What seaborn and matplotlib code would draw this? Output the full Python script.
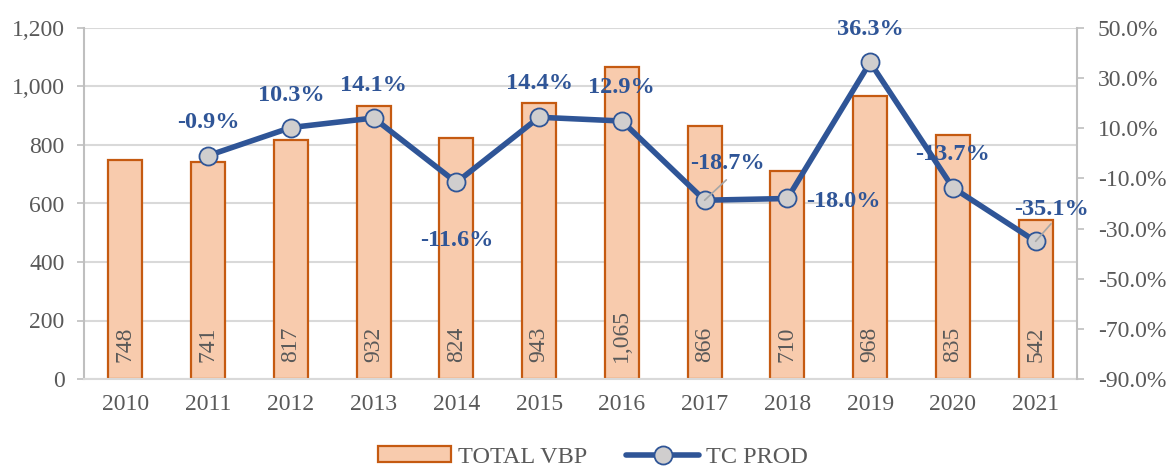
import numpy as np
import pandas as pd
import matplotlib
matplotlib.use('Agg')
import matplotlib.pyplot as plt
import seaborn as sns
from matplotlib.patches import Patch
from matplotlib.lines import Line2D

sns.set_style('white')
plt.rcParams['font.family'] = ['Liberation Serif', 'DejaVu Serif']

years = ['2010', '2011', '2012', '2013', '2014', '2015', '2016', '2017', '2018', '2019', '2020', '2021']
total_vbp = [748, 741, 817, 932, 824, 943, 1065, 866, 710, 968, 835, 542]
tc_prod = [np.nan, -0.9, 10.3, 14.1, -11.6, 14.4, 12.9, -18.7, -18.0, 36.3, -13.7, -35.1]
# label offsets in pixels (dx, dy) relative to each point
label_offsets = [None, (0, 33), (0, 32), (0, 33), (0, -58), (0, 34), (0, 34),
                 (23, 37), (56, -3), (0, 33), (0, 33), (16, 32)]
leader = [False] * 7 + [True, False, False, False, True]

bar_fill = '#F8CBAD'
bar_edge = '#C55A11'
blue = '#2F5597'
grey_txt = '#595959'
axis_grey = '#BFBFBF'

df = pd.DataFrame({'year': years, 'vbp': total_vbp, 'tc': tc_prod, 'pos': np.arange(len(years))})

fig = plt.figure(figsize=(11.69, 4.68), dpi=100)
ax = fig.add_axes([84 / 1169, 1 - 379 / 468, (1077 - 84) / 1169, (379 - 28) / 468])

sns.barplot(data=df, x='year', y='vbp', ax=ax, color=bar_fill, width=0.41,
            edgecolor=bar_edge, linewidth=1.6, saturation=1, zorder=2)
ax.set_ylim(0, 1200)
ax.set_xlim(-0.5, 11.5)
ax.set_yticks(range(0, 1201, 200))
ax.set_yticklabels([f'{v:,}' for v in range(0, 1201, 200)])
ax.yaxis.grid(True, color='#D9D9D9', linewidth=1.5, zorder=0)
ax.set_axisbelow(True)
ax.set_xlabel('')
ax.set_ylabel('')
for s in ['top', 'right']:
    ax.spines[s].set_visible(False)
ax.spines['left'].set_color(axis_grey)
ax.spines['left'].set_linewidth(1.5)
ax.spines['bottom'].set_color('#D9D9D9')
ax.spines['bottom'].set_linewidth(1.5)
ax.tick_params(axis='y', length=5, width=1.2, color=axis_grey, labelsize=17,
               labelcolor=grey_txt, pad=9, left=True)
ax.tick_params(axis='x', length=0, labelsize=17, labelcolor=grey_txt, pad=11)

for i, v in enumerate(total_vbp):
    ax.annotate(f'{v:,}', xy=(i, 0), xytext=(0, 17), textcoords='offset pixels',
                rotation=90, ha='center', va='bottom', fontsize=17, color=grey_txt)

ax2 = ax.twinx()
sns.lineplot(data=df, x='pos', y='tc', ax=ax2, color=blue, linewidth=4,
             marker='o', markersize=13, markerfacecolor='#D0CECE',
             markeredgecolor=blue, markeredgewidth=1.3, zorder=3)
ax2.set_ylim(-90, 50)
ax2.set_xlim(-0.5, 11.5)
ax2.set_yticks(np.arange(-90, 51, 20))
ax2.set_yticklabels([f'{v:.1f}%' for v in np.arange(-90, 51, 20)])
ax2.set_xlabel('')
ax2.set_ylabel('')
for s in ['top', 'left', 'bottom']:
    ax2.spines[s].set_visible(False)
ax2.spines['right'].set_color(axis_grey)
ax2.spines['right'].set_linewidth(1.5)
ax2.tick_params(axis='y', length=5, width=1.2, color=axis_grey, labelsize=17,
                labelcolor=grey_txt, pad=10, right=True)

for i, v in enumerate(tc_prod):
    if np.isnan(v):
        continue
    dx, dy = label_offsets[i]
    ax2.annotate(f'{v:.1f}%', xy=(i, v), xytext=(dx, dy), textcoords='offset pixels',
                 ha='center', va='center', fontsize=17.5, fontweight='bold', color=blue,
                 zorder=5)
    if leader[i]:
        ax2.annotate('', xy=(i, v), xytext=(dx * 0.9 + 1, dy * 0.55), textcoords='offset pixels',
                     arrowprops=dict(arrowstyle='-', color='#A6A6A6', lw=1.2,
                                     shrinkA=0, shrinkB=0))

handles = [Patch(facecolor=bar_fill, edgecolor=bar_edge, linewidth=1.6),
           Line2D([0], [0], color=blue, linewidth=4, marker='o', markersize=13,
                  markerfacecolor='#D0CECE', markeredgecolor=blue, markeredgewidth=1.3)]
fig.legend(handles, ['TOTAL VBP', 'TC PROD'], loc='center', bbox_to_anchor=(593 / 1169, 1 - 457 / 468),
           ncol=2, frameon=False, fontsize=17.5, labelcolor=grey_txt, handlelength=3.0,
           handleheight=0.6, handletextpad=0.3, columnspacing=1.6)

fig.savefig('out.png', dpi=100)
